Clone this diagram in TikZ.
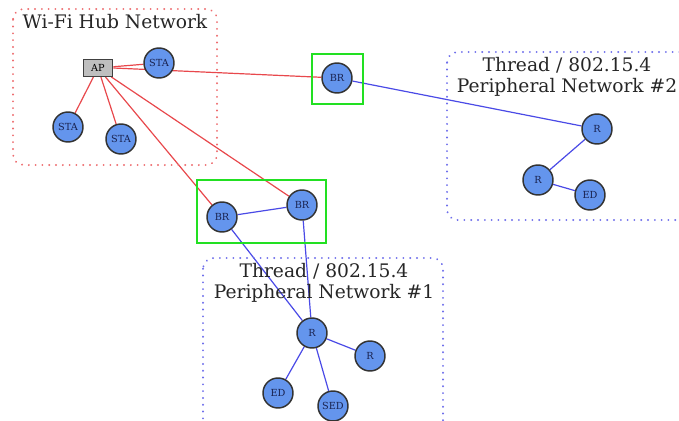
\documentclass[tikz,border=0pt]{standalone}
\usepackage{fontspec}
\setmainfont{DejaVu Serif}
\usetikzlibrary{backgrounds}
\definecolor{nodeblue}{HTML}{6495ED}
\definecolor{labelnavy}{HTML}{1A2350}
\definecolor{wifired}{HTML}{E8484C}
\definecolor{threadblue}{HTML}{4A4AE6}
\definecolor{brgreen}{HTML}{22E022}

\begin{document}
\begin{tikzpicture}[x=0.75pt, y=-0.75pt,
    netnode/.style={circle, draw=black!80, line width=1.1pt, fill=nodeblue, minimum size=22.5pt, inner sep=0pt, text=labelnavy, font=\fontsize{7.3}{8}\selectfont},
    apbox/.style={rectangle, draw=black!75, line width=1pt, fill=black!25, minimum width=22pt, minimum height=12.5pt, inner sep=0pt, font=\fontsize{7.3}{8}\selectfont},
    wifilink/.style={draw=wifired, line width=0.9pt},
    threadlink/.style={draw=threadblue, line width=0.9pt},
    brbox/.style={draw=brgreen, line width=1.5pt},
    wifiarea/.style={draw=wifired!80, line width=1.5pt, dash pattern=on 0.1pt off 5pt, line cap=round, rounded corners=8pt},
    threadarea/.style={draw=threadblue!80, line width=1.5pt, dash pattern=on 0.1pt off 5pt, line cap=round, rounded corners=8pt},
    title/.style={font=\fontsize{14}{15.5}\selectfont, text=black!85, align=center, inner sep=0pt}]
    \useasboundingbox (0,0) rectangle (679,421);
    \clip (0,0) rectangle (679,421);

    % areas
    \draw[wifiarea] (13,9) rectangle (217,165);
    \draw[threadarea] (203,258) rectangle (443,440);
    \draw[threadarea] (447,52) rectangle (700,220);
    \node[title] (wifititle) at (115,22) {Wi-Fi Hub Network};
    \node[title] (thr1title) at (324,283) {Thread / 802.15.4\\Peripheral Network \#1};
    \node[title] (thr2title) at (567,77) {Thread / 802.15.4\\Peripheral Network \#2};

    % border router boxes
    \draw[brbox] (312,54) rectangle (363,104);
    \draw[brbox] (197,180) rectangle (326,243);

    % Wi-Fi hub
    \node[apbox] (ap) at (98,68) {AP};
    \node[netnode] (sta1) at (159,63) {STA};
    \node[netnode] (sta2) at (68,127) {STA};
    \node[netnode] (sta3) at (121,139) {STA};

    % border routers
    \node[netnode] (br0) at (337,78) {BR};
    \node[netnode] (br1) at (222,217) {BR};
    \node[netnode] (br2) at (302,205) {BR};

    % thread network #1
    \node[netnode] (r1) at (312,333) {R};
    \node[netnode] (r2) at (370,356) {R};
    \node[netnode] (ed1) at (278,393) {ED};
    \node[netnode] (sed1) at (333,406) {SED};

    % thread network #2
    \node[netnode] (r3) at (597,129) {R};
    \node[netnode] (r4) at (538,180) {R};
    \node[netnode] (ed2) at (590,195) {ED};

    \begin{scope}[on background layer]
      \draw[wifilink] (ap) -- (sta1);
      \draw[wifilink] (ap) -- (sta2);
      \draw[wifilink] (ap) -- (sta3);
      \draw[wifilink] (ap.east) -- (br0);
      \draw[wifilink] (ap) -- (br1);
      \draw[wifilink] (ap) -- (br2);
      \draw[threadlink] (br0) -- (r3);
      \draw[threadlink] (r3) -- (r4);
      \draw[threadlink] (r4) -- (ed2);
      \draw[threadlink] (br1) -- (br2);
      \draw[threadlink] (br1) -- (r1);
      \draw[threadlink] (br2) -- (r1);
      \draw[threadlink] (r1) -- (r2);
      \draw[threadlink] (r1) -- (ed1);
      \draw[threadlink] (r1) -- (sed1);
    \end{scope}
  \end{tikzpicture}
\end{document}
